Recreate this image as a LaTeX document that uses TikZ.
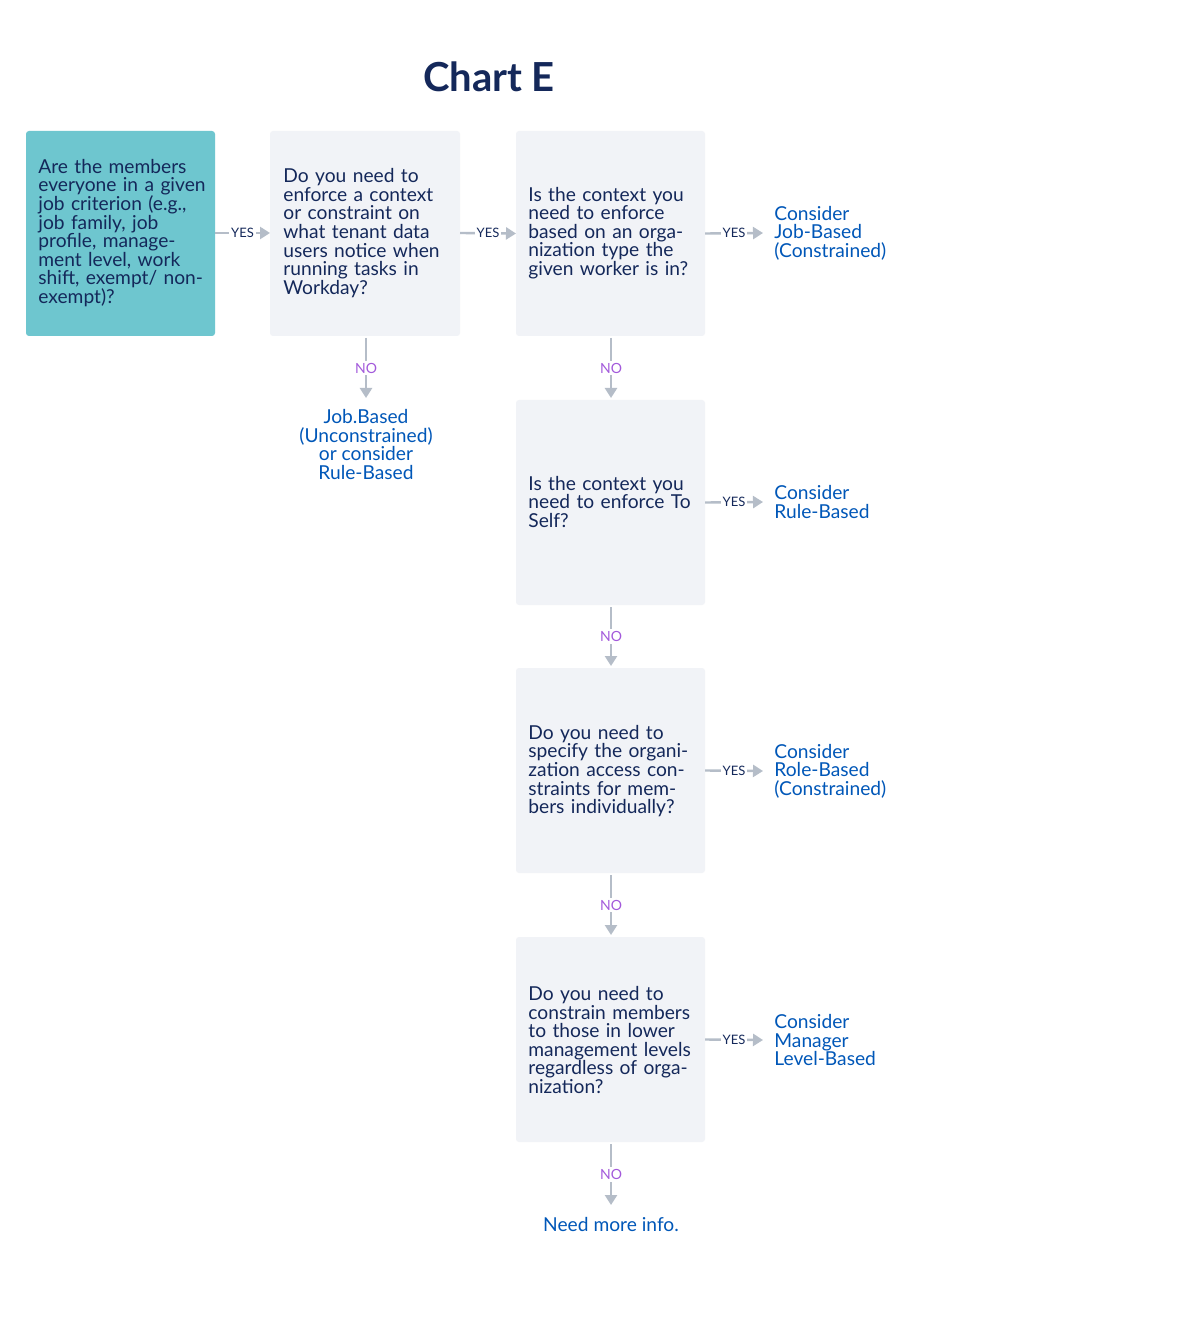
\documentclass[tikz,border=0pt]{standalone}
\usepackage{fontspec}
\setmainfont{Lato}
\usetikzlibrary{arrows.meta}
\definecolor{navy}{HTML}{14285A}
\definecolor{teal1}{HTML}{6EC6CF}
\definecolor{boxg}{HTML}{F1F3F7}
\definecolor{res}{HTML}{0057B8}
\definecolor{arr}{HTML}{B5BDC8}
\definecolor{nop}{HTML}{A35ADB}
\begin{document}
\begin{tikzpicture}[x=0.5pt,y=-0.5pt,
 box/.style={fill=boxg,rounded corners=1.5pt,draw=none},
 txt/.style={anchor=west,align=left,text width=84pt,inner sep=0pt,font=\fontsize{9.6}{9.3}\selectfont,text=navy},
 restxt/.style={anchor=west,align=left,inner sep=0pt,font=\fontsize{9.6}{9.3}\selectfont,text=res},
 resc/.style={align=center,inner sep=0pt,font=\fontsize{9.6}{9.3}\selectfont,text=res},
 con/.style={draw=arr,line width=1.2pt,-{Triangle[length=5pt,width=6pt]}},
 yes/.style={fill=white,inner sep=1pt,font=\fontsize{6.5}{7}\selectfont,text=navy},
 no/.style={fill=white,inner sep=1pt,font=\fontsize{7}{7}\selectfont,text=nop}]
\useasboundingbox[fill=white] (0,0) rectangle (1200,1320);
\node[font=\bfseries\fontsize{20}{22}\selectfont,text=navy] (title) at (489,77) {Chart E};
% boxes
\path[fill=teal1,rounded corners=1.5pt] (26,131) rectangle (215,336);
\coordinate (b1e) at (215,233);
\path[box] (270,131) rectangle (460,336);
\coordinate (b2w) at (270,233); \coordinate (b2e) at (460,233); \coordinate (b2s) at (366,338);
\foreach \t/\b/\n in {131/336/a,400/605/b,668/873/c,937/1142/d}{
 \path[box] (516,\t) rectangle (705,\b);
 \coordinate (\n n) at (611,\t-2); \coordinate (\n s) at (611,\b+2);
 \coordinate (\n e) at (705,{(\t+\b)/2}); \coordinate (\n w) at (516,{(\t+\b)/2});
}
\node[txt] (t1) at (38,233) {Are the members everyone in a given job criterion (e.g., job family, job profile, management level, work shift, exempt/ non-exempt)?};
\node[txt] (t2) at (283,233) {Do you need to enforce a context or constraint on what tenant data users notice when running tasks in Workday?};
\node[txt] (t3) at (528,233) {Is the context you need to enforce based on an organization type the given worker is in?};
\node[txt] (t4) at (528,502) {Is the context you need to enforce To Self?};
\node[txt] (t5) at (528,771) {Do you need to specify the organization access constraints for members individually?};
\node[txt] (t6) at (528,1040) {Do you need to constrain members to those in lower management levels regardless of organization?};
% results
\coordinate (r1) at (763,233); \node[restxt] (R1) at (774,233) {Consider\\Job-Based\\(Constrained)};
\coordinate (r2) at (763,502); \node[restxt] (R2) at (774,502) {Consider\\Rule-Based};
\coordinate (r3) at (763,771); \node[restxt] (R3) at (774,771) {Consider\\Role-Based\\(Constrained)};
\coordinate (r4) at (763,1040); \node[restxt] (R4) at (774,1040) {Consider\\Manager\\Level-Based};
\coordinate (n2) at (366,398);
\node[resc,anchor=north] (R0) at (366,409) {Job.Based\\(Unconstrained)\\or consider\\Rule-Based};
\coordinate (n6) at (611,1205);
\node[resc] (R5) at (611,1224) {Need more info.};
% connectors
\draw[con] (b1e) -- node[yes]{YES} (b2w);
\draw[con] (b2e) -- node[yes]{YES} (aw);
\foreach \e/\r in {ae/r1,be/r2,ce/r3,de/r4}{\draw[con] (\e) -- node[yes]{YES} (\r);}
\draw[con] (b2s) -- node[no]{NO} (n2);
\draw[con] (as) -- node[no]{NO} (bn);
\draw[con] (bs) -- node[no]{NO} (cn);
\draw[con] (cs) -- node[no]{NO} (dn);
\draw[con] (ds) -- node[no]{NO} (n6);
\end{tikzpicture}
\end{document}
